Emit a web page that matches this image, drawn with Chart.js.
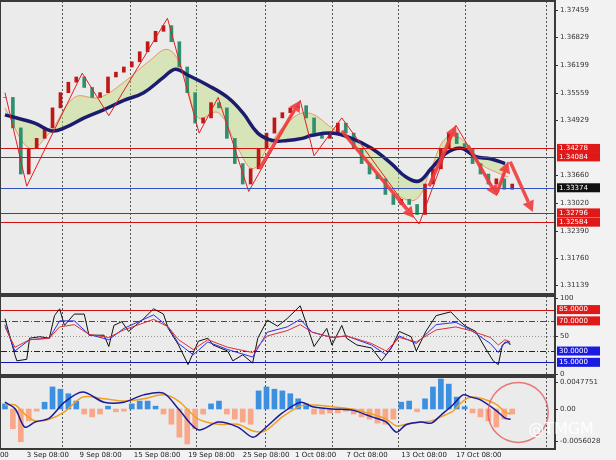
<!DOCTYPE html>
<html>
<head>
<meta charset="utf-8">
<script src="https://cdn.jsdelivr.net/npm/chart.js@4.4.0/dist/chart.umd.min.js"></script>
<style>
  html, body { margin: 0; padding: 0; background: #f2f2f2; }
  #wrap { position: relative; width: 616px; height: 460px; overflow: hidden; font-family: "DejaVu Sans", sans-serif; }
  .pane { position: absolute; left: 0; width: 616px; }
</style>
</head>
<body>
<div id="wrap">
  <div class="pane" style="top:0;height:295px"><canvas id="main"></canvas></div>
  <div class="pane" style="top:295px;height:81px"><canvas id="stoch"></canvas></div>
  <div class="pane" style="top:376px;height:84px"><canvas id="macd"></canvas></div>
</div>
<script>
// ---- price panel data (x = bar number) ----
const closes = [1.3545, 1.3475, 1.3369, 1.3428, 1.3451, 1.3475, 1.3521, 1.3556, 1.3580, 1.3592,
  1.3568, 1.3545, 1.3556, 1.3592, 1.3603, 1.3615, 1.3627, 1.3650, 1.3673, 1.3697,
  1.3710, 1.3673, 1.3615, 1.3556, 1.3486, 1.3498, 1.3533, 1.3521, 1.3451, 1.3393,
  1.3346, 1.3381, 1.3428, 1.3463, 1.3498, 1.3510, 1.3521, 1.3526, 1.3498, 1.3463,
  1.3451, 1.3463, 1.3486, 1.3463, 1.3428, 1.3393, 1.3369, 1.3358, 1.3322, 1.3299,
  1.3311, 1.3299, 1.3276, 1.3346, 1.3381, 1.3428, 1.3463, 1.3439, 1.3428, 1.3393,
  1.3369, 1.3346, 1.3358, 1.3334, 1.3346];
const slowMaBars = [0, 3.75, 5.9, 7.5, 10, 12.5, 15, 17.5, 20, 21.5, 23.1, 25.6, 28.1, 30, 31.9, 33.75,
  35.6, 37.5, 38.75, 41.25, 43.75, 46.25, 48.75, 50.6, 52.25, 53.75, 55.6, 57.5, 59.4, 61.25, 63.1];
const slowMa = [1.3505, 1.3486, 1.3468, 1.3475, 1.3498, 1.3517, 1.3538, 1.3556, 1.3591, 1.3610, 1.3596,
  1.3573, 1.3545, 1.3510, 1.3463, 1.3446, 1.3446, 1.3451, 1.3458, 1.3463, 1.3451, 1.3428, 1.3393,
  1.3362, 1.3353, 1.3381, 1.3416, 1.3428, 1.3409, 1.3404, 1.3393];
const fastMaBars = [0, 3.1, 5.6, 8.75, 11.9, 15, 18.1, 20.6, 22.5, 24.4, 26.9, 29.4, 31.25, 33.1,
  35.6, 38.1, 41.25, 43.75, 46.9, 49.4, 51.9, 53.75, 55.6, 57.5, 60, 62.5, 63.5];
const fastMa = [1.3521, 1.3428, 1.3463, 1.3545, 1.3545, 1.3580, 1.3627, 1.3655, 1.3603, 1.3498,
  1.3510, 1.3428, 1.3381, 1.3428, 1.3486, 1.3510, 1.3475, 1.3439, 1.3369, 1.3322, 1.3311, 1.3381,
  1.3451, 1.3451, 1.3393, 1.3369, 1.3362];
const zigzagBars = [0, 2.75, 9.75, 13.1, 20.5, 24.5, 26.9, 30.75, 37.25, 39, 42.5, 52.25, 56.9, 58.1, 62.1, 63.5];
const zigzag = [1.3556, 1.3341, 1.3601, 1.3503, 1.3727, 1.3463, 1.3545, 1.3329, 1.3538, 1.3411,
  1.3498, 1.3254, 1.3481, 1.3444, 1.3322, 1.3397];
const arrowBars = [[32.1, 37.25], [42.5, 51.6], [53.5, 56.9], [58.4, 62.1], [62.1, 63.5], [63.75, 66.6]];
const arrowPrices = [[1.3381, 1.3538], [1.3468, 1.3268], [1.3341, 1.3481], [1.3435, 1.3318], [1.3327, 1.3397], [1.3397, 1.3282]];
const redLevels = [1.34278, 1.34084, 1.32796, 1.32584];
const bidLevel = 1.33374;
const priceTicks = [1.37459, 1.36829, 1.36199, 1.35559, 1.34929, 1.33660, 1.33020, 1.32390, 1.31760, 1.31139];

// ---- stochastic ----
const stochKBars = [0, 1.25, 1.5, 2.75, 3.1, 4.4, 5.6, 6.25, 6.9, 7.5, 8.75, 10, 10.6, 12.5, 13.1, 13.75,
  14.75, 15.6, 17.5, 18.75, 20, 20.6, 21.9, 23.1, 24.4, 25.6, 26.25, 28.1, 28.75, 30, 31.25, 31.9,
  33.1, 34.4, 35.6, 37.25, 38.1, 39, 40, 40.6, 41.25, 42.5, 43.1, 44.4, 46.25, 47.5, 48.75, 49.75,
  51.25, 51.9, 53.1, 54.4, 56.25, 57.25, 58.1, 59.4, 60.6, 61.6, 62.25, 62.75, 63.5, 63.75];
const stochK = [73, 25, 17, 19, 47, 49, 47, 77, 86, 64, 79, 79, 51, 51, 36, 64, 69, 56, 73, 86, 79, 60,
  38, 12, 43, 47, 38, 30, 17, 25, 14, 47, 71, 63, 73, 90, 64, 36, 51, 60, 38, 64, 47, 38, 34, 17, 34,
  56, 49, 30, 56, 77, 82, 71, 63, 56, 34, 17, 12, 38, 43, 38];
const stochSlowBars = [0, 1.25, 3.1, 5.6, 6.9, 8.75, 10.6, 13.1, 15, 18.75, 20.6, 21.9, 23.75, 25.6, 28.1,
  31.25, 33.1, 35.6, 37.25, 38.75, 41.25, 43.1, 46.25, 48.1, 49.75, 51.9, 54.4, 56.9, 58.75, 61.25,
  62.25, 63.1, 63.75];
const stochBlue = [65, 30, 45, 47, 70, 70, 52, 45, 60, 78, 62, 40, 25, 42, 32, 22, 55, 62, 72, 55, 48, 50,
  38, 25, 50, 40, 65, 68, 58, 40, 28, 42, 40];
const stochRed = [62, 35, 45, 47, 62, 65, 52, 48, 58, 72, 62, 45, 32, 45, 35, 28, 50, 57, 65, 55, 48, 50,
  40, 30, 48, 42, 58, 62, 57, 48, 38, 45, 42];
const stochTicks = [100, 50, 0];

// ---- MACD ----
const macdHist = [0.0009, -0.0035, -0.0058, -0.0021, -0.0004, 0.0012, 0.0039, 0.0035, 0.0027, 0.0014,
  -0.0009, -0.0014, -0.0009, 0.0005, -0.0005, -0.0004, 0.0009, 0.0014, 0.0014, 0.0005,
  -0.0009, -0.0027, -0.005, -0.0062, -0.0035, -0.0009, 0.0009, 0.0014, -0.0009, -0.0018,
  -0.0023, -0.0027, 0.0032, 0.0039, 0.0035, 0.0032, 0.0027, 0.0018, 0.0009, -0.0009,
  -0.0009, -0.0007, -0.0007, -0.0004, -0.0009, -0.0014, -0.0018, -0.0025, -0.0027, -0.0018,
  0.0012, 0.0014, -0.0005, 0.0018, 0.0039, 0.0053, 0.0044, 0.0021, 0.0004, -0.0007,
  -0.0014, -0.0021, -0.0032, -0.0018, -0.0009];
const macdLineBars = [0, 1.3, 2.5, 3.8, 5.6, 7.5, 9.8, 12.5, 15, 17.5, 20, 21.9, 24.4, 26.9, 29.4, 31.3,
  32.8, 35, 37.3, 38.8, 41.3, 43.8, 46.3, 48.1, 49.4, 50.6, 52.5, 53.8, 55, 56.5, 57.8, 58.8, 60,
  61.9, 63.1, 63.8];
const macdMain = [0.0012, 0, -0.0032, -0.0023, -0.0016, 0.0012, 0.003, 0.0012, 0.0012, 0.0025, 0.0028, 0,
  -0.0037, -0.0023, -0.0032, -0.005, -0.0034, -0.0007, 0.0012, 0.0004, 0, -0.0002, -0.0014, -0.0023,
  -0.0041, -0.0028, -0.0023, -0.0025, -0.0011, 0.0007, 0.0025, 0.0021, 0.0016, -0.0002, -0.0016, -0.0018];
const macdSignal = [0.0007, 0.0007, -0.0009, -0.0021, -0.0018, -0.0005, 0.0021, 0.0018, 0.0014, 0.0018,
  0.0025, 0.0014, -0.0018, -0.0027, -0.0027, -0.0039, -0.0039, -0.0014, 0.0005, 0.0007, 0.0004, 0,
  -0.0009, -0.0018, -0.003, -0.0027, -0.0023, -0.0021, -0.0014, -0.0004, 0.0014, 0.0021, 0.0019,
  0.0009, -0.0005, -0.0009];
const macdTicks = [0.0047751, 0, -0.0056028];
const macdTickLabels = ['0.0047751', '0.00', '-0.0056028'];

// ---- time axis ----
const dateTickBars = [-1.5, 2.75, 9.4, 16.25, 23.1, 30, 36.6, 43.1, 50, 56.9];
const dateLabels = ['2:00', '3 Sep 08:00', '9 Sep 08:00', '15 Sep 08:00', '19 Sep 08:00', '25 Sep 08:00',
  '1 Oct 08:00', '7 Oct 08:00', '13 Oct 08:00', '17 Oct 08:00'];
const gridBars = [7.25, 15.75, 24.1, 32.75, 41.25, 49.6, 58.1, 68.25];

const X_MIN = -0.5;
const X_MAX = 69.4;
const AXIS_W = 61;
const FONT = '7px "DejaVu Sans"';

function pts(xs, ys) {
  return xs.map((x, i) => ({ x: x, y: ys[i] }));
}

const xScale = { type: 'linear', min: X_MIN, max: X_MAX, display: false, offset: false };

function yScale(min, max) {
  return { min: min, max: max, display: false };
}

function baseOptions(y, bottomPad) {
  return {
    responsive: true, maintainAspectRatio: false, animation: false,
    layout: { padding: { top: 1, bottom: bottomPad, left: 1, right: AXIS_W } },
    plugins: { legend: { display: false }, tooltip: { enabled: false } },
    scales: { x: xScale, y: y }
  };
}

// panel background, frame, dotted separators and right axis labels
function panelPlugin(ticks, labels) {
  return {
    id: 'panel',
    beforeDraw(chart) {
      const { ctx, chartArea: a } = chart;
      ctx.save();
      ctx.fillStyle = '#ebebeb';
      ctx.fillRect(a.left, a.top, a.right - a.left, a.bottom - a.top);
      const x = chart.scales.x;
      ctx.strokeStyle = '#555';
      ctx.lineWidth = 1;
      ctx.setLineDash([2, 2]);
      gridBars.forEach(b => {
        const px = Math.round(x.getPixelForValue(b)) + 0.5;
        ctx.beginPath(); ctx.moveTo(px, a.top); ctx.lineTo(px, a.bottom); ctx.stroke();
      });
      ctx.restore();
    },
    afterDraw(chart) {
      const { ctx, chartArea: a, scales: { y } } = chart;
      ctx.save();
      ctx.strokeStyle = '#3a3a3a';
      ctx.lineWidth = 2;
      ctx.strokeRect(a.left - 1, a.top, a.right - a.left + 1, a.bottom - a.top);
      ctx.fillStyle = '#333';
      ctx.strokeStyle = '#333';
      ctx.lineWidth = 1;
      ctx.font = FONT;
      ctx.textBaseline = 'middle';
      ticks.forEach((v, i) => {
        const py = Math.round(y.getPixelForValue(v)) + 0.5;
        ctx.beginPath(); ctx.moveTo(a.right, py); ctx.lineTo(a.right + 3, py); ctx.stroke();
        ctx.fillText(labels[i], a.right + 5, py);
      });
      ctx.restore();
    }
  };
}

function tagBox(ctx, chart, y, text, bg) {
  const a = chart.chartArea;
  ctx.fillStyle = bg;
  ctx.fillRect(a.right + 2, y - 4.5, 43, 9);
  ctx.fillStyle = '#fff';
  ctx.font = FONT;
  ctx.textBaseline = 'middle';
  ctx.fillText(text, a.right + 4, y);
}

const levelsPlugin = {
  id: 'levels',
  afterDatasetsDraw(chart) {
    const { ctx, chartArea: a, scales: { x, y } } = chart;
    ctx.save();
    ctx.lineWidth = 1;
    ctx.strokeStyle = '#d01010';
    redLevels.forEach(v => {
      const py = Math.round(y.getPixelForValue(v)) + 0.5;
      ctx.beginPath(); ctx.moveTo(a.left, py); ctx.lineTo(a.right, py); ctx.stroke();
    });
    const by = Math.round(y.getPixelForValue(bidLevel)) + 0.5;
    ctx.strokeStyle = '#3050c0';
    ctx.beginPath(); ctx.moveTo(a.left, by); ctx.lineTo(a.right, by); ctx.stroke();
    // thick arrows
    ctx.strokeStyle = 'rgba(240,60,60,0.9)';
    ctx.fillStyle = 'rgba(240,60,60,0.9)';
    arrowBars.forEach((bx, i) => {
      const x0 = x.getPixelForValue(bx[0]), x1 = x.getPixelForValue(bx[1]);
      const y0 = y.getPixelForValue(arrowPrices[i][0]), y1 = y.getPixelForValue(arrowPrices[i][1]);
      const ang = Math.atan2(y1 - y0, x1 - x0);
      const hx = x1 - 11 * Math.cos(ang), hy = y1 - 11 * Math.sin(ang);
      ctx.lineWidth = 3.5;
      ctx.beginPath(); ctx.moveTo(x0, y0); ctx.lineTo(hx, hy); ctx.stroke();
      ctx.beginPath();
      ctx.moveTo(x1, y1);
      ctx.lineTo(hx + 6 * Math.sin(ang), hy - 6 * Math.cos(ang));
      ctx.lineTo(hx - 6 * Math.sin(ang), hy + 6 * Math.cos(ang));
      ctx.closePath(); ctx.fill();
    });
    ctx.restore();
  },
  afterDraw(chart) {
    const { ctx, scales: { y } } = chart;
    ctx.save();
    redLevels.forEach(v => tagBox(ctx, chart, y.getPixelForValue(v), v.toFixed(5), '#e01818'));
    tagBox(ctx, chart, y.getPixelForValue(bidLevel), bidLevel.toFixed(5), '#111');
    ctx.restore();
  }
};

new Chart(document.getElementById('main'), {
  type: 'bar',
  data: {
    datasets: [
      {
        type: 'line', label: 'fast', data: pts(fastMaBars, fastMa), borderColor: 'rgba(230,120,60,0.7)',
        borderWidth: 1, pointRadius: 0, tension: 0.4, fill: 1, backgroundColor: 'rgba(190,220,120,0.45)', order: 3
      },
      {
        type: 'line', label: 'slow', data: pts(slowMaBars, slowMa), borderColor: '#1c1c6e',
        borderWidth: 3.5, pointRadius: 0, tension: 0.4, order: 1
      },
      {
        type: 'line', label: 'zigzag', data: pts(zigzagBars, zigzag), borderColor: '#e02020',
        borderWidth: 1, pointRadius: 0, order: 0
      },
      {
        label: 'candles',
        data: closes.map((c, i) => ({ x: i, y: [i === 0 ? c : closes[i - 1], c] })),
        backgroundColor: closes.map((c, i) => (i > 0 && c < closes[i - 1]) ? '#2f8f6f' : '#c01818'),
        barThickness: 3, order: 2
      }
    ]
  },
  options: baseOptions(yScale(1.30933, 1.37666), 1),
  plugins: [panelPlugin(priceTicks, priceTicks.map(v => v.toFixed(5))), levelsPlugin]
});

// stochastic
const stochLevels = [
  { v: 85, color: '#d01010', dash: [], tag: '85.0000' },
  { v: 70, color: '#d01010', dash: [6, 2, 1, 2], tag: '70.0000' },
  { v: 50, color: '#999', dash: [1, 2], tag: null },
  { v: 30, color: '#1010c0', dash: [6, 2, 1, 2], tag: '30.0000' },
  { v: 15, color: '#1010c0', dash: [], tag: '15.0000' }
];
const stochPlugin = {
  id: 'stochLevels',
  beforeDatasetsDraw(chart) {
    const { ctx, chartArea: a, scales: { y } } = chart;
    ctx.save();
    stochLevels.forEach(l => {
      const py = Math.round(y.getPixelForValue(l.v)) + 0.5;
      ctx.strokeStyle = l.color; ctx.setLineDash(l.dash); ctx.lineWidth = 1;
      ctx.beginPath(); ctx.moveTo(a.left, py); ctx.lineTo(a.right, py); ctx.stroke();
    });
    ctx.restore();
  },
  afterDraw(chart) {
    const { ctx, scales: { y } } = chart;
    ctx.save();
    stochLevels.filter(l => l.tag).forEach(l =>
      tagBox(ctx, chart, y.getPixelForValue(l.v), l.tag, l.v > 50 ? '#e01818' : '#1a1ae0'));
    ctx.restore();
  }
};
new Chart(document.getElementById('stoch'), {
  type: 'line',
  data: {
    datasets: [
      { data: pts(stochSlowBars, stochRed), borderColor: '#e03030', borderWidth: 1, pointRadius: 0 },
      { data: pts(stochSlowBars, stochBlue), borderColor: '#3030e0', borderWidth: 1, pointRadius: 0 },
      { data: pts(stochKBars, stochK), borderColor: '#111', borderWidth: 1, pointRadius: 0 }
    ]
  },
  options: baseOptions(yScale(-1.8, 103), 1),
  plugins: [panelPlugin(stochTicks, stochTicks.map(String)), stochPlugin]
});

// MACD
const macdPlugin = {
  id: 'macdDecor',
  afterDraw(chart) {
    const { ctx, chartArea: a, scales: { x, y } } = chart;
    ctx.save();
    // time labels under the last panel
    ctx.fillStyle = '#222';
    ctx.font = FONT;
    ctx.textBaseline = 'top';
    dateTickBars.forEach((b, i) => {
      const px = x.getPixelForValue(b);
      ctx.fillText(dateLabels[i], px, a.bottom + 3);
    });
    const cx = x.getPixelForValue(64.75), cy = y.getPixelForValue(-0.0006);
    ctx.strokeStyle = 'rgba(230,90,90,0.8)'; ctx.lineWidth = 1.5;
    ctx.beginPath(); ctx.arc(cx, cy, 30, 0, Math.PI * 2); ctx.stroke();
    ctx.fillStyle = 'rgba(255,255,255,0.9)';
    ctx.font = '16px "DejaVu Sans"';
    ctx.textBaseline = 'middle';
    ctx.fillText('@TMGM', cx + 10, cy + 17);
    ctx.restore();
  }
};
new Chart(document.getElementById('macd'), {
  type: 'bar',
  data: {
    datasets: [
      {
        type: 'line', data: pts(macdLineBars, macdSignal), borderColor: '#f0a020', borderWidth: 1.5,
        pointRadius: 0, tension: 0.3, order: 1
      },
      {
        type: 'line', data: pts(macdLineBars, macdMain), borderColor: '#1a1a9a', borderWidth: 1.5,
        pointRadius: 0, tension: 0.3, order: 0
      },
      {
        data: macdHist.map((v, i) => ({ x: i, y: v })),
        backgroundColor: macdHist.map(v => v >= 0 ? '#3d8fe0' : '#f8a888'),
        barThickness: 5, order: 2
      }
    ]
  },
  options: baseOptions(yScale(-0.00708, 0.00566), 11),
  plugins: [panelPlugin(macdTicks, macdTickLabels), macdPlugin]
});
</script>
</body>
</html>
